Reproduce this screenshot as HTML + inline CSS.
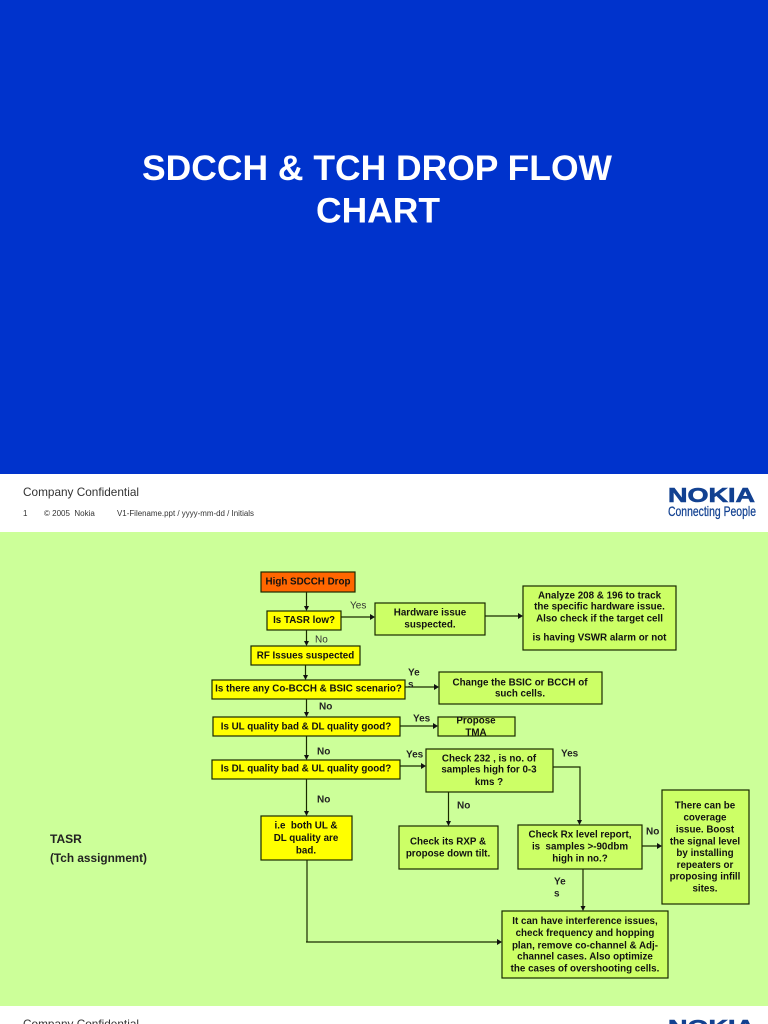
<!DOCTYPE html>
<html><head><meta charset="utf-8"><style>
html,body{margin:0;padding:0;background:#fff;width:768px;height:1024px;overflow:hidden}
svg{display:block;font-family:"Liberation Sans",Arial,sans-serif;filter:blur(.35px)}
.b{fill:#ccff66;stroke:#1a2a00;stroke-width:1.2}
.y{fill:#ffff00;stroke:#1a2a00;stroke-width:1.2}
.t{font-size:9.8px;font-weight:bold;text-anchor:middle;fill:#111;white-space:pre}
.l{font-size:10px;font-weight:bold;fill:#222}
.g{font-size:10px;fill:#333}
.c{stroke:#1a2a00;stroke-width:1.2;fill:none}
.a{fill:#111}
</style></head><body>
<svg width="768" height="1024" viewBox="0 0 768 1024" xmlns="http://www.w3.org/2000/svg">
<rect x="0" y="0" width="768" height="474" fill="#0033cc"/>
<rect x="0" y="474" width="768" height="58" fill="#fff"/>
<rect x="0" y="532" width="768" height="474" fill="#ccff99"/>
<text x="377" y="180" font-size="35" font-weight="bold" fill="#fff" text-anchor="middle" textLength="470" lengthAdjust="spacingAndGlyphs">SDCCH &amp; TCH DROP FLOW</text>
<text x="378" y="222.500" font-size="35" font-weight="bold" fill="#fff" text-anchor="middle" textLength="124" lengthAdjust="spacingAndGlyphs">CHART</text>

<text x="23" y="496" font-size="11.800" fill="#333" textLength="116" lengthAdjust="spacingAndGlyphs">Company Confidential</text>
<text x="23" y="516" font-size="8" fill="#333">1</text>
<text x="44" y="516" font-size="8" fill="#333" xml:space="preserve">© 2005  Nokia</text>
<text x="117" y="516" font-size="8" fill="#333" textLength="137" lengthAdjust="spacingAndGlyphs">V1-Filename.ppt / yyyy-mm-dd / Initials</text>
<text x="668" y="502" font-size="20" font-weight="bold" fill="#124191" stroke="#124191" stroke-width=".6" textLength="87" lengthAdjust="spacingAndGlyphs">NOKIA</text>
<text x="668" y="516" font-size="14" fill="#124191" stroke="#124191" stroke-width=".25" textLength="88" lengthAdjust="spacingAndGlyphs">Connecting People</text>

<text x="23" y="1028" font-size="11.800" fill="#333" textLength="116" lengthAdjust="spacingAndGlyphs">Company Confidential</text>
<text x="668" y="1034" font-size="20" font-weight="bold" fill="#124191" stroke="#124191" stroke-width=".6" textLength="87" lengthAdjust="spacingAndGlyphs">NOKIA</text>

<!-- connectors -->
<path class="c" d="M306.500 592V607M341 617H371M485 616H519M306.500 630V642M305.500 665V676M306.500 699V713M306.500 736V756M306.500 779V812M405 687H435M400 726H434M400 766H422M448.500 792V822M553 767H580V821M642 846H658M583 869V907M307 860V942M306 942H498"/>
<!-- arrowheads -->
<g class="a">
<polygon points="304,606 309,606 306.500,611"/>
<polygon points="370,614 375,617 370,620"/>
<polygon points="518,613 523,616 518,619"/>
<polygon points="304,641 309,641 306.500,646"/>
<polygon points="303,675 308,675 305.500,680"/>
<polygon points="304,712 309,712 306.500,717"/>
<polygon points="304,755 309,755 306.500,760"/>
<polygon points="304,811 309,811 306.500,816"/>
<polygon points="434,684 439,687 434,690"/>
<polygon points="433,723 438,726 433,729"/>
<polygon points="421,763 426,766 421,769"/>
<polygon points="446,821 451,821 448.500,826"/>
<polygon points="577,820 582,820 579.500,825"/>
<polygon points="657,843 662,846 657,849"/>
<polygon points="580.500,906 585.500,906 583,911"/>
<polygon points="497,939 502,942 497,945"/>
</g>

<!-- boxes -->
<rect x="261" y="572" width="94" height="20" fill="#ff6600" stroke="#1a2a00" stroke-width="1.2"/>
<rect class="y" x="267" y="611" width="74" height="19"/>
<rect class="y" x="251" y="646" width="109" height="19"/>
<rect class="y" x="212" y="680" width="193" height="19"/>
<rect class="y" x="213" y="717" width="187" height="19"/>
<rect class="y" x="212" y="760" width="188" height="19"/>
<rect class="y" x="261" y="816" width="91" height="44"/>
<rect class="b" x="375" y="603" width="110" height="32"/>
<rect class="b" x="523" y="586" width="153" height="64"/>
<rect class="b" x="439" y="672" width="163" height="32"/>
<rect class="b" x="438" y="717" width="77" height="19"/>
<rect class="b" x="426" y="749" width="127" height="43"/>
<rect class="b" x="399" y="826" width="99" height="43"/>
<rect class="b" x="518" y="825" width="124" height="44"/>
<rect class="b" x="662" y="790" width="87" height="114"/>
<rect class="b" x="502" y="911" width="166" height="67"/>

<!-- box text -->
<text class="t" x="308" y="584.500">High SDCCH Drop</text>
<text class="t" x="304" y="623">Is TASR low?</text>
<text class="t" x="305.500" y="658.500">RF Issues suspected</text>
<text class="t" x="308.500" y="691.500">Is there any Co-BCCH &amp; BSIC scenario?</text>
<text class="t" x="306" y="729.500">Is UL quality bad &amp; DL quality good?</text>
<text class="t" x="306" y="771.500">Is DL quality bad &amp; UL quality good?</text>

<text class="t" x="430" y="615.500">Hardware issue</text>
<text class="t" x="430" y="627.500">suspected.</text>

<text class="t" x="599.500" y="598.500">Analyze 208 &amp; 196 to track</text>
<text class="t" x="599.500" y="609.500">the specific hardware issue.</text>
<text class="t" x="599.500" y="621.500">Also check if the target cell</text>
<text class="t" x="599.500" y="640.500">is having VSWR alarm or not</text>

<text class="t" x="520" y="685.500">Change the BSIC or BCCH of</text>
<text class="t" x="520" y="696.500">such cells.</text>

<text class="t" x="476" y="723.500">Propose</text>
<text class="t" x="476" y="735.500">TMA</text>

<text class="t" x="489" y="761.500">Check 232 , is no. of</text>
<text class="t" x="489" y="772.500">samples high for 0-3</text>
<text class="t" x="489" y="785">kms ?</text>

<text class="t" x="306" y="828.500" xml:space="preserve">i.e  both UL &amp;</text>
<text class="t" x="306" y="841">DL quality are</text>
<text class="t" x="306" y="853.500">bad.</text>

<text class="t" x="448" y="844.500">Check its RXP &amp;</text>
<text class="t" x="448" y="856.500">propose down tilt.</text>

<text class="t" x="580" y="837.500">Check Rx level report,</text>
<text class="t" x="580" y="849.500" xml:space="preserve">is  samples &gt;-90dbm</text>
<text class="t" x="580" y="861.500">high in no.?</text>

<text class="t" x="705" y="808.500">There can be</text>
<text class="t" x="705" y="820.500">coverage</text>
<text class="t" x="705" y="832.500">issue. Boost</text>
<text class="t" x="705" y="844.500">the signal level</text>
<text class="t" x="705" y="856">by installing</text>
<text class="t" x="705" y="868">repeaters or</text>
<text class="t" x="705" y="879.500">proposing infill</text>
<text class="t" x="705" y="891.500">sites.</text>

<text class="t" x="585" y="924">It can have interference issues,</text>
<text class="t" x="585" y="936">check frequency and hopping</text>
<text class="t" x="585" y="948.500">plan, remove co-channel &amp; Adj-</text>
<text class="t" x="585" y="959.500">channel cases. Also optimize</text>
<text class="t" x="585" y="971.500">the cases of overshooting cells.</text>

<!-- labels -->
<text class="g" x="350" y="608.500">Yes</text>
<text class="g" x="315" y="642.500">No</text>
<text class="l" x="408" y="675.500">Ye</text>
<text class="l" x="408" y="687.500">s</text>
<text class="l" x="319" y="709.500">No</text>
<text class="l" x="413" y="721.500">Yes</text>
<text class="l" x="317" y="754.500">No</text>
<text class="l" x="406" y="757.500">Yes</text>
<text class="l" x="561" y="756.500">Yes</text>
<text class="l" x="317" y="802.500">No</text>
<text class="l" x="457" y="808.500">No</text>
<text class="l" x="646" y="834.500">No</text>
<text class="l" x="554" y="884.500">Ye</text>
<text class="l" x="554" y="896.500">s</text>

<text x="50" y="843" font-size="12" font-weight="bold" fill="#222">TASR</text>
<text x="50" y="862" font-size="12" font-weight="bold" fill="#222" textLength="97" lengthAdjust="spacingAndGlyphs">(Tch assignment)</text>
</svg>
</body></html>
